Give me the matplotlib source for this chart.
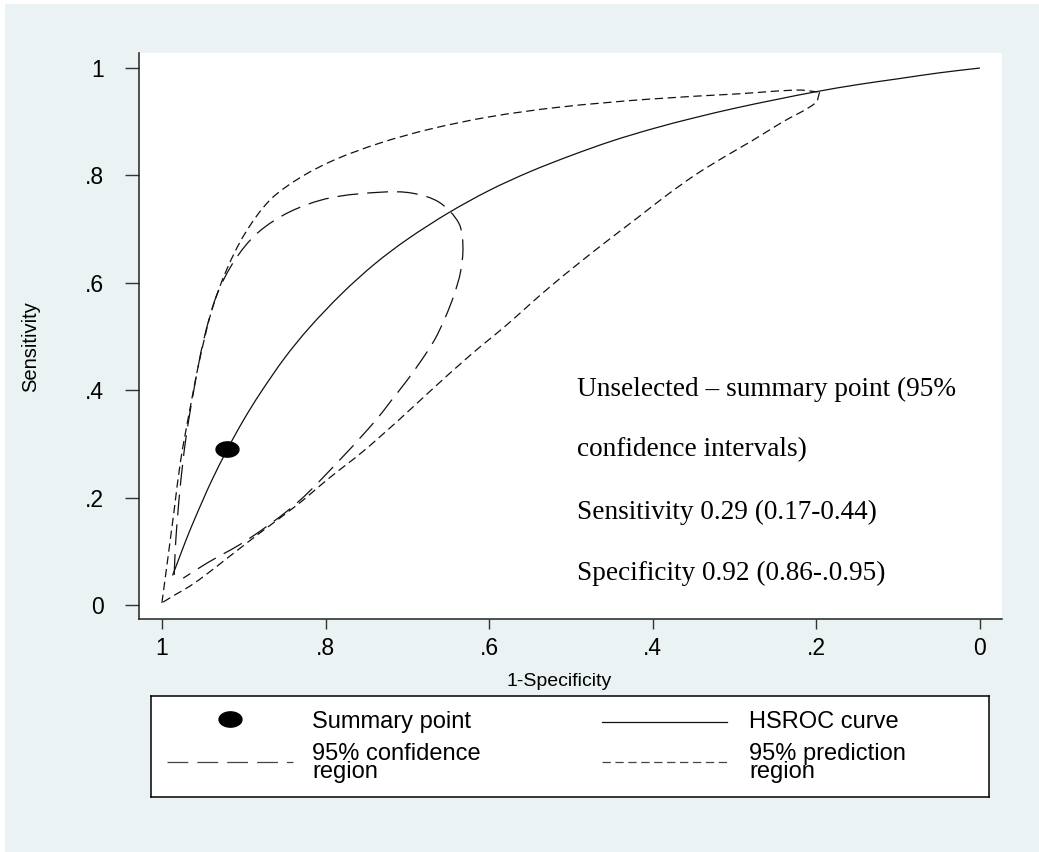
import matplotlib
matplotlib.use("Agg")
import matplotlib.pyplot as plt
from matplotlib.path import Path
from matplotlib.patches import Rectangle, PathPatch
import numpy as np

plt.rcParams['font.family'] = ['Liberation Sans', 'DejaVu Sans']
plt.rcParams['lines.scale_dashes'] = False

# ---------------- data (specificity, sensitivity) ----------------
hsroc_spec = [0.987, 0.980, 0.970, 0.960, 0.950, 0.940, 0.920, 0.900, 0.880, 0.850,
              0.820, 0.780, 0.740, 0.700, 0.650, 0.600, 0.550, 0.500, 0.450, 0.400,
              0.350, 0.300, 0.250, 0.200, 0.150, 0.100, 0.050, 0.000]
hsroc_sens = [0.055, 0.083, 0.123, 0.160, 0.195, 0.229, 0.290, 0.345, 0.394, 0.460,
              0.516, 0.580, 0.635, 0.681, 0.730, 0.772, 0.807, 0.837, 0.864, 0.887,
              0.907, 0.925, 0.941, 0.956, 0.969, 0.980, 0.991, 1.000]

conf_spec = [0.985, 0.983, 0.978, 0.971, 0.961, 0.949, 0.933, 0.911, 0.883, 0.844,
             0.795, 0.730, 0.694, 0.661, 0.637, 0.632, 0.635, 0.643, 0.654, 0.667,
             0.684, 0.701, 0.720, 0.738, 0.779, 0.835, 0.896, 0.945, 0.974]
conf_sens = [0.056, 0.121, 0.214, 0.307, 0.400, 0.493, 0.577, 0.642, 0.693, 0.732,
             0.758, 0.769, 0.767, 0.750, 0.711, 0.667, 0.620, 0.577, 0.534, 0.493,
             0.453, 0.417, 0.380, 0.345, 0.276, 0.190, 0.121, 0.078, 0.050]

# prediction region: upper branch (from the origin corner to the top tip) ...
pred_up_spec = [1.000, 0.993, 0.985, 0.977, 0.966, 0.954, 0.939, 0.921, 0.898, 0.868,
                0.832, 0.789, 0.734, 0.673, 0.600, 0.515, 0.405, 0.295, 0.222, 0.196]
pred_up_sens = [0.004, 0.084, 0.177, 0.270, 0.363, 0.456, 0.549, 0.624, 0.693, 0.754,
                0.795, 0.829, 0.860, 0.886, 0.909, 0.927, 0.942, 0.952, 0.959, 0.955]
# ... and lower branch (from the top tip back to the origin corner)
pred_lo_spec = [0.196, 0.201, 0.243, 0.277, 0.313, 0.348, 0.383, 0.417, 0.454, 0.490,
                0.533, 0.579, 0.624, 0.673, 0.713, 0.755, 0.795, 0.835, 0.877, 0.917,
                0.944, 0.966, 0.984, 1.000]
pred_lo_sens = [0.955, 0.935, 0.898, 0.866, 0.834, 0.801, 0.763, 0.723, 0.680, 0.637,
                0.583, 0.521, 0.464, 0.397, 0.341, 0.285, 0.237, 0.186, 0.138, 0.091,
                0.059, 0.035, 0.019, 0.004]

summary_spec = [0.92]
summary_sens = [0.29]

xticks = [1, 0.8, 0.6, 0.4, 0.2, 0]
xticklabels = ["1", ".8", ".6", ".4", ".2", "0"]
yticks = [0, 0.2, 0.4, 0.6, 0.8, 1]
yticklabels = ["0", ".2", ".4", ".6", ".8", "1"]

annot_lines = ["Unselected \u2013 summary point (95%",
               "confidence intervals)",
               "Sensitivity 0.29 (0.17-0.44)",
               "Specificity 0.92 (0.86-.0.95)"]
annot_y = [0.402, 0.289, 0.173, 0.058]

legend_labels = ["Summary point", "HSROC curve",
                 "95% confidence\nregion", "95% prediction\nregion"]

# ---------------- styling ----------------
W, H = 1039, 852
BG = "#EAF2F3"
LC = "#111111"
LW = 0.9
CONF_DASH = (15, 6.5)
PRED_DASH = (6, 3.3)

t = np.linspace(0, 2 * np.pi, 60)
ell = Path(np.column_stack([1.5 * np.cos(t), np.sin(t)]), closed=True)


def smooth_path(ax, xs, ys):
    """Smooth (chord-length Hermite/Bezier) path passing through the given data points."""
    pts = ax.transData.transform(np.column_stack([xs, ys]))
    n = len(pts)
    d = np.hypot(*np.diff(pts, axis=0).T)
    T = np.zeros_like(pts)
    for i in range(n):
        if i == 0:
            T[i] = (pts[1] - pts[0]) / d[0]
        elif i == n - 1:
            T[i] = (pts[-1] - pts[-2]) / d[-1]
        else:
            T[i] = (pts[i + 1] - pts[i - 1]) / (d[i - 1] + d[i])
    verts = [pts[0]]
    codes = [Path.MOVETO]
    for i in range(n - 1):
        verts += [pts[i] + T[i] * d[i] / 3, pts[i + 1] - T[i + 1] * d[i] / 3, pts[i + 1]]
        codes += [Path.CURVE4] * 3
    verts = ax.transData.inverted().transform(np.array(verts))
    return Path(verts, codes)


fig = plt.figure(figsize=(W / 100, H / 100), dpi=100, facecolor="white")
fig.patches.append(Rectangle((5 / W, 0), 1 - 5 / W, 1 - 4 / H, transform=fig.transFigure,
                             facecolor=BG, edgecolor="none", zorder=-10))

ax = fig.add_axes([139 / W, 1 - 619 / H, (1002 - 139) / W, (619 - 53) / H])
ax.set_facecolor("white")
ax.set_xlim(1.028, -0.027)
ax.set_ylim(-0.026, 1.028)


def add_curve(xs, ys, dashes=None):
    ls = "-" if dashes is None else (0, dashes)
    ax.add_patch(PathPatch(smooth_path(ax, xs, ys), fill=False, edgecolor=LC, lw=LW,
                           linestyle=ls, transform=ax.transData))


add_curve(pred_up_spec, pred_up_sens, PRED_DASH)
add_curve(pred_lo_spec, pred_lo_sens, PRED_DASH)
add_curve(conf_spec, conf_sens, CONF_DASH)
add_curve(hsroc_spec, hsroc_sens)
ax.plot(summary_spec, summary_sens, linestyle="none", marker=ell, markersize=16.5,
        color="black", zorder=5)

for s in ["top", "right"]:
    ax.spines[s].set_visible(False)
for s in ["left", "bottom"]:
    ax.spines[s].set_color("#222222")
    ax.spines[s].set_linewidth(1.1)

ax.set_xticks(xticks)
ax.set_xticklabels(xticklabels)
ax.set_yticks(yticks)
ax.set_yticklabels(yticklabels)
ax.tick_params(axis="x", direction="out", length=7.2, width=1, color="#333333",
               pad=6, labelsize=16.5)
ax.tick_params(axis="y", direction="out", length=10, width=1, color="#333333",
               pad=15, labelsize=16.5)

ax.set_xlabel("1-Specificity", fontsize=14)
ax.xaxis.set_label_coords((559 - 139) / (1002 - 139), -(673 - 619) / (619 - 53))
ax.set_ylabel("Sensitivity", fontsize=14.5)
ax.yaxis.set_label_coords(-(139 - 40) / (1002 - 139), (619 - 347) / (619 - 53))

for txt, yv in zip(annot_lines, annot_y):
    ax.text(0.493, yv, txt, family=["Liberation Serif", "DejaVu Serif"], fontsize=19.6,
            ha="left", va="center", color="black")

# ---------------- legend box ----------------
lx0, lx1, ly0, ly1 = 151, 989, 696, 797
lax = fig.add_axes([lx0 / W, 1 - ly1 / H, (lx1 - lx0) / W, (ly1 - ly0) / H])
lax.set_xlim(lx0, lx1)
lax.set_ylim(ly1, ly0)
lax.set_xticks([])
lax.set_yticks([])
lax.set_facecolor("white")
for s in lax.spines.values():
    s.set_color("black")
    s.set_linewidth(1.1)

lax.plot([230], [719], linestyle="none", marker=ell, markersize=16.5, color="black")
lax.plot([602, 727], [722, 722], color=LC, lw=LW)
lax.plot([167, 293], [762, 762], color="#444444", lw=LW, dashes=CONF_DASH)
lax.plot([602, 727], [762, 762], color="#444444", lw=LW, dashes=PRED_DASH)
lfs = 17
lax.text(312, 722, legend_labels[0], fontsize=lfs, va="center", ha="left")
lax.text(749, 722, legend_labels[1], fontsize=lfs, va="center", ha="left")
lax.text(312, 763, legend_labels[2], fontsize=lfs, va="center", ha="left", linespacing=0.82)
lax.text(749, 763, legend_labels[3], fontsize=lfs, va="center", ha="left", linespacing=0.82)

fig.savefig("out.png", dpi=100, facecolor="white")
